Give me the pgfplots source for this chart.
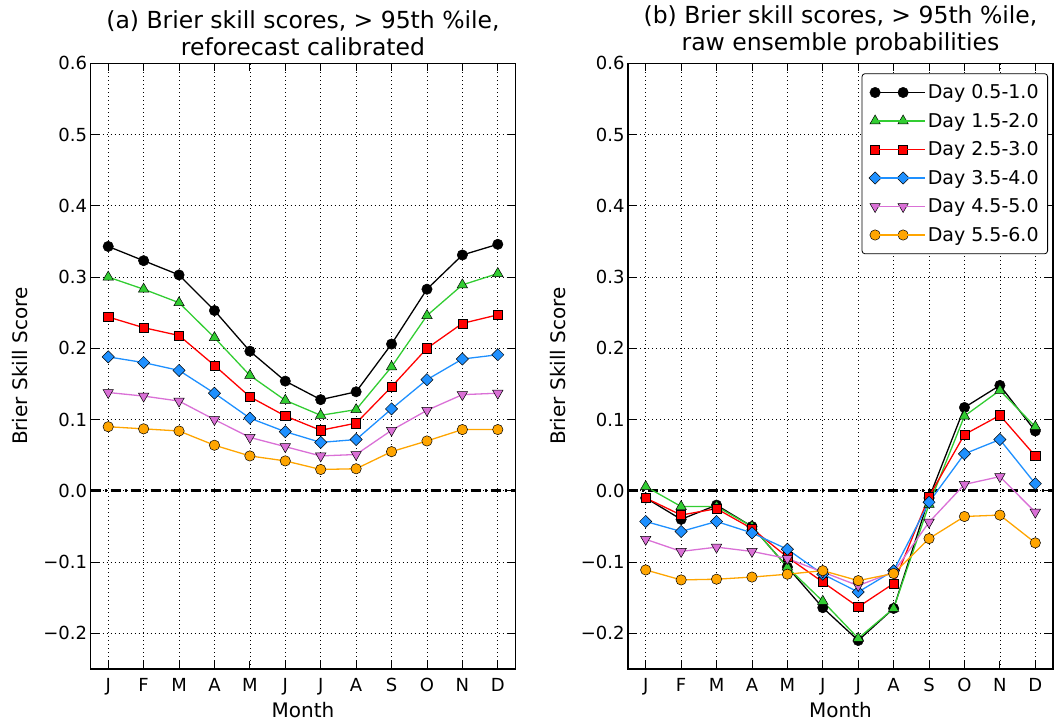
\documentclass[border=0pt]{standalone}
\usepackage{pgfplots}
\usepackage{pgfplotstable}
\pgfplotsset{compat=1.18}
\usepackage{fontspec}
\setmainfont{DejaVu Sans}
\usetikzlibrary{plotmarks}

\definecolor{cgreen}{RGB}{50,205,50}
\definecolor{cblue}{RGB}{30,144,255}
\definecolor{cviolet}{RGB}{218,112,214}
\definecolor{corange}{RGB}{255,165,0}

\pgfplotstableread{
m d1 d2 d3 d4 d5 d6
1 0.343 0.300 0.244 0.188 0.138 0.090
2 0.323 0.283 0.229 0.180 0.133 0.087
3 0.303 0.264 0.218 0.169 0.126 0.084
4 0.253 0.215 0.176 0.137 0.100 0.064
5 0.196 0.162 0.132 0.102 0.075 0.049
6 0.154 0.127 0.105 0.083 0.062 0.042
7 0.128 0.106 0.085 0.068 0.049 0.030
8 0.139 0.114 0.095 0.072 0.051 0.031
9 0.206 0.174 0.146 0.115 0.085 0.055
10 0.283 0.246 0.200 0.156 0.113 0.070
11 0.331 0.289 0.235 0.185 0.135 0.086
12 0.346 0.305 0.247 0.191 0.137 0.086
}\calib

\pgfplotstableread{
m d1 d2 d3 d4 d5 d6
1 -0.010 0.006 -0.010 -0.043 -0.068 -0.111
2 -0.040 -0.022 -0.034 -0.057 -0.085 -0.125
3 -0.020 -0.022 -0.025 -0.043 -0.079 -0.124
4 -0.050 -0.050 -0.053 -0.059 -0.085 -0.121
5 -0.107 -0.107 -0.093 -0.082 -0.095 -0.117
6 -0.164 -0.155 -0.128 -0.117 -0.114 -0.112
7 -0.210 -0.207 -0.163 -0.142 -0.133 -0.126
8 -0.165 -0.165 -0.130 -0.112 -0.114 -0.116
9 -0.010 -0.019 -0.008 -0.016 -0.044 -0.067
10 0.117 0.105 0.079 0.052 0.009 -0.036
11 0.148 0.141 0.106 0.072 0.020 -0.034
12 0.084 0.090 0.049 0.010 -0.030 -0.073
}\raw

\pgfplotsset{
  sA/.style={color=black, line width=1.3pt, mark=*, mark size=5.2pt,
    mark options={solid, draw=black, fill=black, line width=0.5pt}},
  sB/.style={color=cgreen, line width=1.3pt, mark=triangle*, mark size=6pt,
    mark options={solid, draw=black, fill=cgreen, line width=0.5pt}},
  sC/.style={color=red, line width=1.3pt, mark=square*, mark size=4.6pt,
    mark options={solid, draw=black, fill=red, line width=0.5pt}},
  sD/.style={color=cblue, line width=1.3pt, mark=square*, mark size=4.3pt,
    mark options={solid, draw=black, fill=cblue, line width=0.5pt, rotate=45}},
  sE/.style={color=cviolet, line width=1.3pt, mark=triangle*, mark size=6pt,
    mark options={solid, draw=black, fill=cviolet, line width=0.5pt, rotate=180}},
  sF/.style={color=corange, line width=1.3pt, mark=*, mark size=5.2pt,
    mark options={solid, draw=black, fill=corange, line width=0.5pt}},
  bss/.style={
    scale only axis, width=425pt, height=605.7pt,
    xmin=0.5, xmax=12.5, ymin=-0.25, ymax=0.6,
    xtick={1,...,12}, xticklabels={J,F,M,A,M,J,J,A,S,O,N,D},
    ytick={-0.2,-0.1,0,0.1,0.2,0.3,0.4,0.5,0.6},
    yticklabels={−0.2,−0.1,0.0,0.1,0.2,0.3,0.4,0.5,0.6},
    tick align=inside, major tick length=8pt,
    tick style={black, line width=0.8pt},
    grid=major, major grid style={black, line width=0.7pt, dash pattern=on 1pt off 3pt},
    axis line style={line width=1.2pt},
    tick label style={font=\fontsize{18}{20}\selectfont},
    xticklabel style={yshift=-6pt},
    label style={font=\fontsize{20}{22}\selectfont},
    title style={font=\fontsize{23.5}{27}\selectfont, align=center, yshift=-2pt},
    xlabel={Month}, ylabel={Brier Skill Score},
    xlabel style={at={(0.5,0)}, anchor=center, yshift=-41pt},
    ylabel style={at={(0,0.5)}, anchor=center, yshift=70pt},
    legend image code/.code={\draw[#1] plot coordinates {(0pt,0pt) (28pt,0pt)}; \path (0pt,0pt) -- (50pt,0pt);},
  }
}

\begin{document}
\begin{tikzpicture}[x=1pt,y=1pt]
\path[use as bounding box] (0,0) rectangle (1055,722);

\begin{axis}[bss, at={(90.5pt,53pt)}, anchor=south west,
  title={(a) Brier skill scores, > 95th \%ile,\\reforecast calibrated}]
\addplot[black, line width=2.8pt, dash pattern=on 10pt off 4pt on 2pt off 4pt, forget plot] coordinates {(0.5,0) (12.5,0)};
\addplot[sA] table[x=m,y=d1]{\calib};
\addplot[sB] table[x=m,y=d2]{\calib};
\addplot[sC] table[x=m,y=d3]{\calib};
\addplot[sD] table[x=m,y=d4]{\calib};
\addplot[sE] table[x=m,y=d5]{\calib};
\addplot[sF] table[x=m,y=d6]{\calib};
\end{axis}

\begin{axis}[bss, at={(628pt,53pt)}, anchor=south west,
  title={(b) Brier skill scores, > 95th \%ile,\\raw ensemble probabilities},
  legend style={at={(1,1)}, anchor=north east, xshift=-5pt, yshift=-10pt,
    draw=black, rounded corners=3pt, line width=0.8pt,
    inner xsep=7pt, inner ysep=9pt,
    nodes={inner xsep=2pt},
    font=\fontsize{19}{21}\selectfont, row sep=8.9pt},
  legend cell align=left]
\addplot[black, line width=2.8pt, dash pattern=on 10pt off 4pt on 2pt off 4pt, forget plot] coordinates {(0.5,0) (12.5,0)};
\addplot[sA] table[x=m,y=d1]{\raw};
\addplot[sB] table[x=m,y=d2]{\raw};
\addplot[sC] table[x=m,y=d3]{\raw};
\addplot[sD] table[x=m,y=d4]{\raw};
\addplot[sE] table[x=m,y=d5]{\raw};
\addplot[sF] table[x=m,y=d6]{\raw};
\legend{Day 0.5-1.0, Day 1.5-2.0, Day 2.5-3.0, Day 3.5-4.0, Day 4.5-5.0, Day 5.5-6.0}
\end{axis}
\end{tikzpicture}
\end{document}
